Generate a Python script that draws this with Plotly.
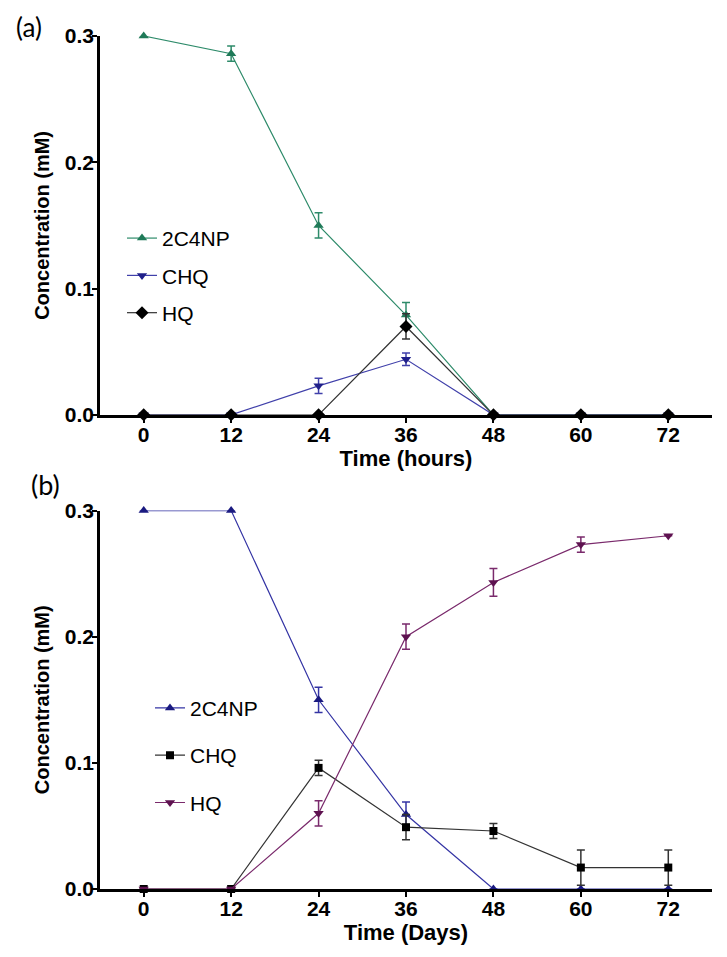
import plotly.graph_objects as go

# ---------------- data ----------------
time_points = [0, 12, 24, 36, 48, 60, 72]
x_ticks = [0, 12, 24, 36, 48, 60, 72]
y_ticks = [0.0, 0.1, 0.2, 0.3]

# panel (a) - hours
a_2c4np = [0.300, 0.286, 0.150, 0.079, 0.0, 0.0, 0.0]
a_2c4np_err = [0.0, 0.006, 0.010, 0.010, 0.0, 0.0, 0.0]
a_chq = [0.0, 0.0, 0.023, 0.044, 0.0, 0.0, 0.0]
a_chq_err = [0.0, 0.0, 0.006, 0.005, 0.0, 0.0, 0.0]
a_hq = [0.0, 0.0, 0.0, 0.070, 0.0, 0.0, 0.0]
a_hq_err = [0.0, 0.0, 0.0, 0.010, 0.0, 0.0, 0.0]

# panel (b) - days
b_2c4np = [0.300, 0.300, 0.150, 0.059, 0.0, 0.0, 0.0]
b_2c4np_err = [0.0, 0.0, 0.010, 0.010, 0.0, 0.0, 0.0]
b_chq = [0.0, 0.0, 0.096, 0.049, 0.046, 0.017, 0.017]
b_chq_err = [0.0, 0.0, 0.006, 0.010, 0.006, 0.014, 0.014]
b_hq = [0.0, 0.0, 0.060, 0.200, 0.243, 0.273, 0.280]
b_hq_err = [0.0, 0.0, 0.010, 0.010, 0.011, 0.006, 0.0]

# page body adds an 8px offset; work in screen pixels
OFF = 8
W, H = 727 - OFF, 957 - OFF
ML = 100 - OFF
MT = 36 - OFF
MR = W - (712 - OFF)
MB = H - (889.3 - OFF)
PW, PH = W - ML - MR, H - MT - MB


def px_x(sx):
    return (sx - OFF - ML) / PW


def px_y(sy):
    return 1 - (sy - OFF - MT) / PH


FONT = "Liberation Sans, Arial, sans-serif"

fig = go.Figure()


def add(x, y, err, name, line_color, marker_color, symbol, size, xa, ya, legend, group):
    fig.add_trace(go.Scatter(
        x=x, y=y, name=name, mode="lines+markers",
        line=dict(color=line_color, width=1.2),
        marker=dict(symbol=symbol, size=size, color=marker_color),
        error_y=dict(type="data", array=err, visible=True, color=line_color,
                     thickness=1.5, width=4),
        xaxis=xa, yaxis=ya, legend=legend, legendgroup=group,
        cliponaxis=False,
    ))


# panel (a)
add(time_points, a_2c4np, a_2c4np_err, "2C4NP", "#2E8B6A", "#1F7A58", "triangle-up", 9, "x", "y", "legend", "a1")
add(time_points, a_chq, a_chq_err, "CHQ", "#4040AA", "#20208A", "triangle-down", 9, "x", "y", "legend", "a2")
add(time_points, a_hq, a_hq_err, "HQ", "#333333", "#000000", "diamond", 10, "x", "y", "legend", "a3")

# panel (b)
add(time_points, b_2c4np, b_2c4np_err, "2C4NP", "#3434A4", "#1A1A80", "triangle-up", 9, "x2", "y2", "legend2", "b1")
add(time_points, b_chq, b_chq_err, "CHQ", "#333333", "#000000", "square", 8, "x2", "y2", "legend2", "b2")
add(time_points, b_hq, b_hq_err, "HQ", "#7A2A6C", "#5E1250", "triangle-down", 9, "x2", "y2", "legend2", "b3")

axis_common = dict(
    showline=True, linecolor="black", linewidth=2.5,
    ticks="outside", ticklen=5, tickwidth=2, tickcolor="black",
    showgrid=False, zeroline=False, automargin=False,
    tickfont=dict(family=FONT, size=21, color="black", weight="bold"),
)

xaxis_common = dict(axis_common, range=[-6, 78], tickvals=x_ticks, ticklabelstandoff=-6)
yaxis_common = dict(axis_common, range=[0, 0.3], tickvals=y_ticks, tickformat=".1f",
                    ticklabelstandoff=-6)

XT_FONT = dict(family=FONT, size=22, color="black", weight="bold")
YT_FONT = dict(family=FONT, size=20, color="black", weight="bold")

dom_a = [px_y(415), 1.0]
dom_b = [0.0, px_y(510.7)]

fig.update_layout(
    width=W, height=H,
    margin=dict(l=ML, r=MR, t=MT, b=MB, autoexpand=False),
    plot_bgcolor="white", paper_bgcolor="white",
    xaxis=dict(xaxis_common, domain=[0, 1], anchor="y",
               title=dict(text="Time (hours)", standoff=2, font=XT_FONT)),
    yaxis=dict(yaxis_common, domain=dom_a, anchor="x",
               title=dict(text="Concentration (mM)", standoff=10, font=YT_FONT)),
    xaxis2=dict(xaxis_common, domain=[0, 1], anchor="y2",
                title=dict(text="Time (Days)", standoff=2, font=XT_FONT)),
    yaxis2=dict(yaxis_common, domain=dom_b, anchor="x2",
                title=dict(text="Concentration (mM)", standoff=10, font=YT_FONT)),
    legend=dict(x=px_x(122), y=px_y(218), xanchor="left", yanchor="top",
                font=dict(family=FONT, size=21, color="black"),
                bgcolor="rgba(0,0,0,0)", tracegroupgap=7, itemwidth=30),
    legend2=dict(x=px_x(150), y=px_y(688), xanchor="left", yanchor="top",
                 font=dict(family=FONT, size=21, color="black"),
                 bgcolor="rgba(0,0,0,0)", tracegroupgap=17, itemwidth=30),
    showlegend=True,
    annotations=[
        dict(text="(a)", x=px_x(29), y=px_y(27), xref="paper", yref="paper",
             xanchor="center", yanchor="middle", showarrow=False,
             font=dict(family="Lato, Open Sans, sans-serif", size=26, color="black")),
        dict(text="(b)", x=px_x(45), y=px_y(485), xref="paper", yref="paper",
             xanchor="center", yanchor="middle", showarrow=False,
             font=dict(family="Lato, Open Sans, sans-serif", size=27, color="black")),
    ],
)

fig.write_html("out.html")
